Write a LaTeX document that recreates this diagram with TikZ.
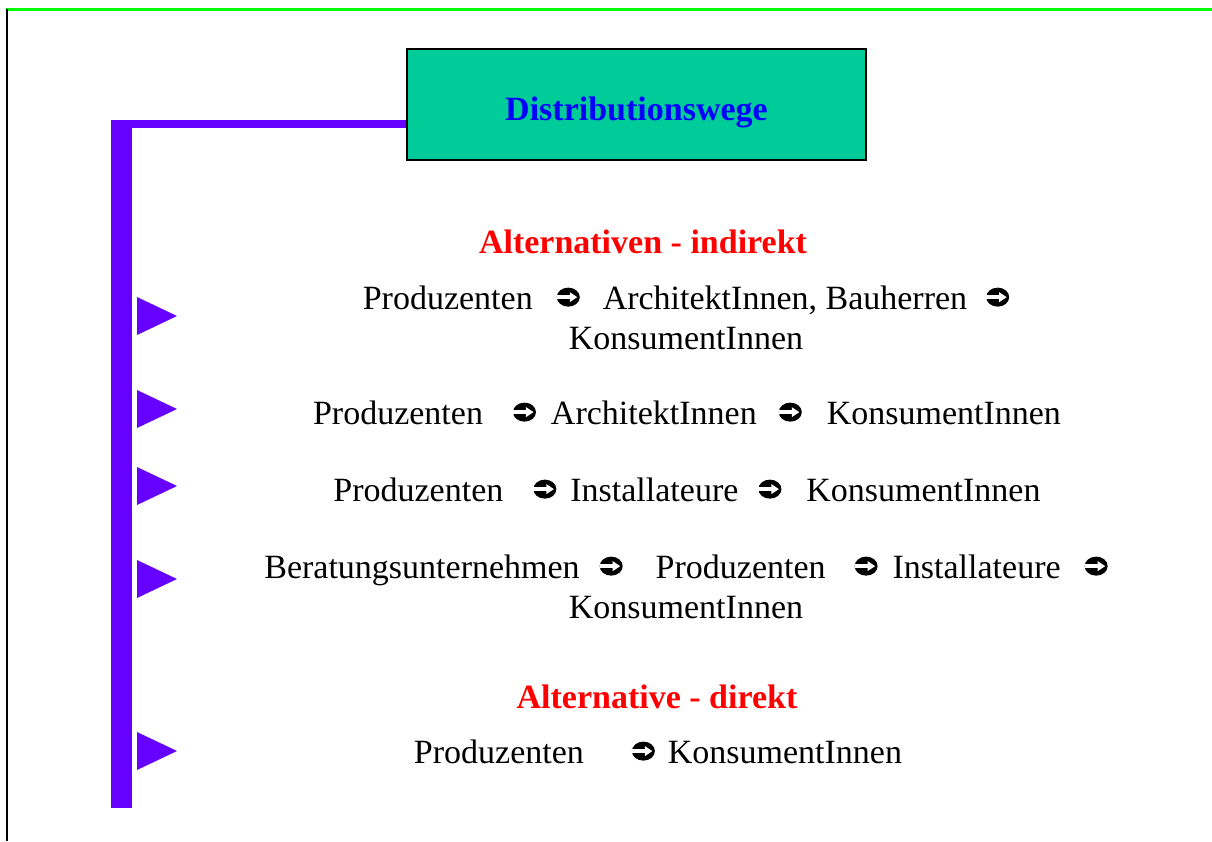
\documentclass[tikz,border=0pt]{standalone}
\usepackage{fontspec}
\setmainfont{Liberation Serif}
\usetikzlibrary{positioning}
\definecolor{barviolet}{RGB}{102,0,255}
\definecolor{framegreen}{RGB}{0,255,0}
\definecolor{titleteal}{RGB}{0,204,153}
% schwarzer Kreis mit weissem Pfeil
\newcommand{\pfeil}{\tikz[x=1pt, y=1pt, baseline=0pt]{%
  \fill[black] (11.5,12.5) ellipse [x radius=11.5, y radius=9.5];
  \fill[white] (0,10.5) rectangle (14,14.5);
  \fill[white] (13,7.5) -- (20.5,12.5) -- (13,17.5) -- cycle;}}

\begin{document}
\begin{tikzpicture}[
  x=1pt, y=-1pt,
  every node/.style={font=\fontsize{34}{40}\selectfont, inner sep=0pt},
  titlebox/.style={draw=black, line width=2pt, fill=titleteal, minimum width=459pt, minimum height=111pt, text height=31pt, text depth=0pt, font=\fontsize{34}{40}\selectfont\bfseries, text=blue},
  heading/.style={font=\fontsize{34}{40}\selectfont\bfseries, text=red},
  weg/.style={align=center},
  marker/.style={fill=barviolet},
  bar/.style={draw=barviolet, line width=8pt}
]
  \useasboundingbox (0,0) rectangle (1212,841);

  % Rahmen
  \draw[framegreen, line width=3pt] (6,9) -- (1212,9);
  \draw[black, line width=2pt] (6.5,9) -- (6.5,841);

  % Titel und Balken
  \node[titlebox] (title) at (636.5,104.5) {Distributionswege};
  \fill[barviolet] (111,120) rectangle (132,808);
  \coordinate (bartop) at (132,124);
  \draw[bar] (bartop) -- (bartop -| title.west);

  % Alternativen - indirekt
  \node[heading] (hind) at (643,242) {Alternativen - indirekt};
  \node[weg] (w1) at (686,318) {Produzenten\hspace{24pt}\pfeil\hspace{23pt}ArchitektInnen, Bauherren\hspace{19pt}\pfeil\\KonsumentInnen};
  \node[weg] (w2) at (687,413) {Produzenten\hspace{30pt}\pfeil\hspace{15pt}ArchitektInnen\hspace{22pt}\pfeil\hspace{25pt}KonsumentInnen};
  \node[weg] (w3) at (687,490) {Produzenten\hspace{30pt}\pfeil\hspace{14pt}Installateure\hspace{20pt}\pfeil\hspace{25pt}KonsumentInnen};
  \node[weg] (w4) at (686,587) {Beratungsunternehmen\hspace{20pt}\pfeil\hspace{33pt}Produzenten\hspace{29pt}\pfeil\hspace{15pt}Installateure\hspace{24pt}\pfeil\\KonsumentInnen};

  % Alternative - direkt
  \node[heading] (hdir) at (657,697) {Alternative - direkt};
  \node[weg] (w5) at (658,752) {Produzenten\hspace{48pt}\pfeil\hspace{13pt}KonsumentInnen};

  % Dreiecke am Balken
  \fill[marker] (137,297) -- (177,316) -- (137,335) -- cycle;
  \fill[marker] (137,390) -- (177,409) -- (137,428) -- cycle;
  \fill[marker] (137,467) -- (177,486) -- (137,505) -- cycle;
  \fill[marker] (137,560) -- (177,579) -- (137,598) -- cycle;
  \fill[marker] (137,732) -- (177,751) -- (137,770) -- cycle;

\end{tikzpicture}
\end{document}
